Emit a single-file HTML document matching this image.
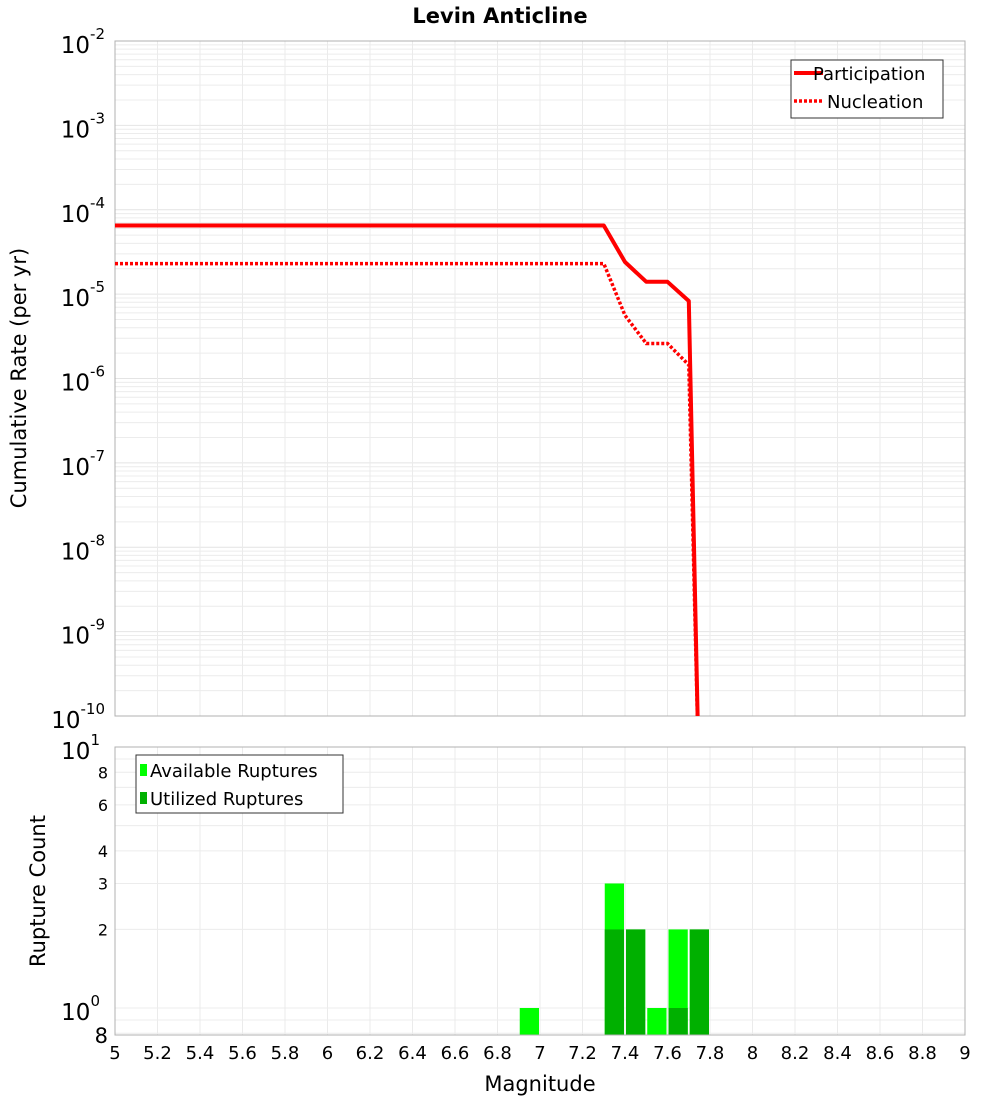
<!DOCTYPE html>
<html><head><meta charset="utf-8"><style>
body{margin:0;background:#fff;}
svg text{font-family:"DejaVu Sans","Liberation Sans",sans-serif;}
</style></head><body>
<svg id="chart" width="1000" height="1100" xmlns="http://www.w3.org/2000/svg">
<defs>
<clipPath id="topClip"><rect x="115" y="41" width="850" height="675"/></clipPath>
<clipPath id="botClip"><rect x="115" y="747" width="850" height="288"/></clipPath>
</defs>
<text x="500" y="23" text-anchor="middle" font-size="21" font-weight="bold">Levin Anticline</text>
<g id="topG"></g>
<g id="botG"></g>
<text x="540" y="1091" text-anchor="middle" font-size="21">Magnitude</text>
<text transform="translate(26,378) rotate(-90)" text-anchor="middle" font-size="21">Cumulative Rate (per yr)</text>
<text transform="translate(45,891) rotate(-90)" text-anchor="middle" font-size="21">Rupture Count</text>
</svg>
<script>
const partMag = [5, 7.3, 7.4, 7.5, 7.6, 7.7, 7.75];
const partRate = [6.5e-5, 6.5e-5, 2.4e-5, 1.4e-5, 1.4e-5, 8.3e-6, 1e-11];
const nuclMag = [5, 7.3, 7.4, 7.5, 7.6, 7.7, 7.75];
const nuclRate = [2.3e-5, 2.3e-5, 5.6e-6, 2.6e-6, 2.6e-6, 1.45e-6, 1e-11];
const binCenters = [6.95, 7.35, 7.45, 7.55, 7.65, 7.75];
const availCounts = [1, 3, 2, 1, 2, 2];
const usedCounts = [0, 2, 2, 0, 1, 2];
const xTicks = [5,5.2,5.4,5.6,5.8,6,6.2,6.4,6.6,6.8,7,7.2,7.4,7.6,7.8,8,8.2,8.4,8.6,8.8,9];
const topExps = [-2,-3,-4,-5,-6,-7,-8,-9,-10];
const botTicks = [8,6,4,3,2];

const NS="http://www.w3.org/2000/svg";
const X0=115,X1=965;
const xs=m=>X0+(m-5)/4*(X1-X0);
const TY0=41,TY1=716;
const ty=v=>TY0+(-2-Math.log10(v))/8*(TY1-TY0);
const BY0=747,BY1=1035;
const by=v=>1008-Math.log10(v)*261;
function el(p,tag,a){const e=document.createElementNS(NS,tag);for(const k in a)e.setAttribute(k,a[k]);p.appendChild(e);return e;}
const topG=document.getElementById('topG'), botG=document.getElementById('botG');

for(let e=-10;e<-2;e++){for(let k=2;k<=9;k++){const y=ty(k*Math.pow(10,e));
const l=el(topG,'line',{x1:X0,x2:X1,y1:y,y2:y,stroke:'#ececec','stroke-width':1});

}}
topExps.forEach(e=>{const y=ty(Math.pow(10,e));
const l=el(topG,'line',{x1:X0,x2:X1,y1:y,y2:y,stroke:'#e4e4e4','stroke-width':1});


const t=el(topG,'text',{x:105,y:y+12,'text-anchor':'end','font-size':23});


t.textContent='10';const s=el(t,'tspan',{dy:-14,'font-size':15});s.textContent=String(e);});
xTicks.forEach(m=>{const x=xs(m);
[[topG,TY0,TY1],[botG,BY0,BY1]].forEach(([g,a,b])=>{const l=el(g,'line',{x1:x,x2:x,y1:a,y2:b,stroke:'#ebebeb','stroke-width':1});

});
const t=el(botG,'text',{x:x,y:1059,'text-anchor':'middle','font-size':18});


t.textContent=String(m);});
const tf=el(topG,'rect',{x:X0,y:TY0,width:X1-X0,height:TY1-TY0,fill:'none',stroke:'#b0b0b0'});



function path(mags,rates){return mags.map((m,i)=>(i?'L':'M')+xs(m).toFixed(1)+','+ty(rates[i]).toFixed(1)).join(' ');}
const pl=el(topG,'path',{d:path(partMag,partRate),fill:'none',stroke:'#ff0000','stroke-width':4,'clip-path':'url(#topClip)','stroke-linejoin':'round'});


const nl=el(topG,'path',{d:path(nuclMag,nuclRate),fill:'none',stroke:'#ff0000','stroke-width':3.5,'stroke-dasharray':'3,2','clip-path':'url(#topClip)'});



const lg=el(topG,'g',{});


el(lg,'rect',{x:791,y:60,width:152,height:58,fill:'#fff',stroke:'#333'});
el(lg,'line',{x1:794,x2:823,y1:73,y2:73,stroke:'#f00','stroke-width':4});
el(lg,'line',{x1:794,x2:823,y1:101,y2:101,stroke:'#f00','stroke-width':3.5,'stroke-dasharray':'3,2'});
let t1=el(lg,'text',{x:813,y:80,'font-size':18});t1.textContent='Participation';


let t2=el(lg,'text',{x:827,y:108,'font-size':18});t2.textContent='Nucleation';



[0.8,0.9,1,2,3,4,5,6,7,8,9,10].forEach(v=>{const y=by(v);
const l=el(botG,'line',{x1:X0,x2:X1,y1:y,y2:y,stroke:'#ececec','stroke-width':1});

});
botTicks.forEach(v=>{const t=el(botG,'text',{x:108,y:by(v)+6,'text-anchor':'end','font-size':16});


t.textContent=String(v);});
[[10,'1'],[1,'0']].forEach(([v,e])=>{const t=el(botG,'text',{x:100,y:by(v)+12,'text-anchor':'end','font-size':23});


t.textContent='10';const s=el(t,'tspan',{dy:-14,'font-size':15});s.textContent=e;});
const t8=el(botG,'text',{x:108,y:1043,'text-anchor':'end','font-size':21});t8.textContent='8';



const bw=(xs(5.1)-xs(5))-2;
binCenters.forEach((c,i)=>{const x=xs(c)-bw/2;
if(availCounts[i]>0){const y=by(availCounts[i]);const r=el(botG,'rect',{x:x,y:y,width:bw,height:BY1-y,fill:'#00ff00','clip-path':'url(#botClip)'});

}
if(usedCounts[i]>0){const y=by(usedCounts[i]);const r=el(botG,'rect',{x:x,y:y,width:bw,height:BY1-y,fill:'#00b000','clip-path':'url(#botClip)'});

}});
const bf=el(botG,'rect',{x:X0,y:BY0,width:X1-X0,height:BY1-BY0,fill:'none',stroke:'#b0b0b0'});



const lb=el(botG,'g',{});


el(lb,'rect',{x:136,y:755,width:207,height:58,fill:'#fff',stroke:'#333'});
el(lb,'rect',{x:140,y:764,width:7,height:12,fill:'#00ff00'});
el(lb,'rect',{x:140,y:792,width:7,height:12,fill:'#00b000'});
let a1=el(lb,'text',{x:150,y:777,'font-size':18});a1.textContent='Available Ruptures';


let a2=el(lb,'text',{x:150,y:805,'font-size':18});a2.textContent='Utilized Ruptures';


</script>
</body></html>
